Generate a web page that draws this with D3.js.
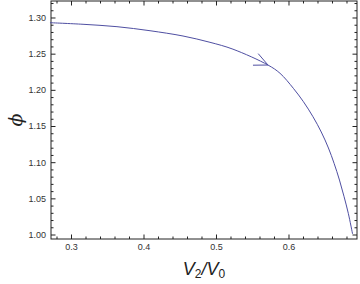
<!DOCTYPE html>
<html>
<head>
<meta charset="utf-8">
<script src="https://cdn.jsdelivr.net/npm/d3@7"></script>
<style>
  body { margin: 0; background: #fff; }
  svg { display: block; }
  .tick text { font-family: "Liberation Sans", Arial, sans-serif; font-size: 9px; fill: #333; }
</style>
</head>
<body>
<div id="chart"></div>
<script>
// curve
const v2v0 = [0.2710, 0.3166, 0.3634, 0.4090, 0.4545, 0.4917, 0.5234, 0.5717, 0.5883,
              0.6067, 0.6206, 0.6338, 0.6452, 0.6551, 0.6629, 0.6703, 0.6767, 0.6825, 0.6884];
const phi  = [1.2928, 1.2906, 1.2873, 1.2817, 1.2744, 1.2657, 1.2562, 1.2343, 1.2229,
              1.2021, 1.1836, 1.1628, 1.1417, 1.1196, 1.0984, 1.0753, 1.0522, 1.0293, 1.0007];
const arrowIndex = 7;   // where the direction arrow sits

const xTicks = [0.3, 0.4, 0.5, 0.6];
const yTicks = [1.00, 1.05, 1.10, 1.15, 1.20, 1.25, 1.30];
const xDomain = [0.2724, 0.6945];
const yDomain = [0.9938, 1.3228];

const W = 360, H = 284;
const margin = {top: 1, right: 3, bottom: 45, left: 51};
const width = W - margin.left - margin.right;
const height = H - margin.top - margin.bottom;

const data = v2v0.map((v, i) => ({x: v, y: phi[i]}));

let svg = d3.select("#chart")
  .append("svg")
    .attr("width", W)
    .attr("height", H)
  .append("g")
    .attr("transform", "translate(" + margin.left + "," + margin.top + ")");

const xScale = d3.scaleLinear().domain(xDomain).range([0, width]);
const yScale = d3.scaleLinear().domain(yDomain).range([height, 0]);

// minor ticks every 0.02 / 0.01
const xMinor = d3.range(0.28, 0.70, 0.02).filter(t => xTicks.every(m => Math.abs(m - t) > 1e-6));
const yMinor = d3.range(1.00, 1.33, 0.01).filter(t => yTicks.every(m => Math.abs(m - t) > 1e-6));

function addAxis(axis, transform) {
  const g = svg.append("g").attr("transform", transform).call(axis);
  g.select(".domain").remove();
  g.selectAll("line").attr("stroke", "#222");
  return g;
}

// bottom
addAxis(d3.axisBottom(xScale).tickValues(xTicks).tickSize(-4.5).tickPadding(5).tickFormat(d3.format(".1f")),
  `translate(0,${height})`);
addAxis(d3.axisBottom(xScale).tickValues(xMinor).tickSize(-2.5).tickFormat(""),
  `translate(0,${height})`);
// top
addAxis(d3.axisTop(xScale).tickValues(xTicks).tickSize(-4.5).tickFormat(""), "translate(0,0)");
addAxis(d3.axisTop(xScale).tickValues(xMinor).tickSize(-2.5).tickFormat(""), "translate(0,0)");
// left
addAxis(d3.axisLeft(yScale).tickValues(yTicks).tickSize(-4.5).tickPadding(5).tickFormat(d3.format(".2f")),
  "translate(0,0)");
addAxis(d3.axisLeft(yScale).tickValues(yMinor).tickSize(-2.5).tickFormat(""), "translate(0,0)");
// right
addAxis(d3.axisRight(yScale).tickValues(yTicks).tickSize(-4.5).tickFormat(""), `translate(${width},0)`);
addAxis(d3.axisRight(yScale).tickValues(yMinor).tickSize(-2.5).tickFormat(""), `translate(${width},0)`);

// frame
svg.append("rect")
  .attr("x", 0).attr("y", 0)
  .attr("width", width).attr("height", height)
  .attr("fill", "none")
  .attr("stroke", "#222");

// curve
const line = d3.line()
  .x(d => xScale(d.x))
  .y(d => yScale(d.y))
  .curve(d3.curveCatmullRom.alpha(0.5));

svg.append("path")
  .datum(data)
  .attr("d", line)
  .attr("fill", "none")
  .attr("stroke", "#4f4fa2")
  .attr("stroke-width", 1);

// open arrow head pointing along the curve
const tip = data[arrowIndex], prev = data[arrowIndex - 1];
const tx = xScale(tip.x), ty = yScale(tip.y);
const ang = Math.atan2(ty - yScale(prev.y), tx - xScale(prev.x));
const back = ang + Math.PI, spread = 25 * Math.PI / 180, len = 15;
const arms = [back - spread, back + spread].map(a => [tx + len * Math.cos(a), ty + len * Math.sin(a)]);
svg.append("path")
  .attr("d", `M${arms[0][0]},${arms[0][1]}L${tx},${ty}L${arms[1][0]},${arms[1][1]}`)
  .attr("fill", "none")
  .attr("stroke", "#4f4fa2")
  .attr("stroke-width", 1);

// axis titles
const xt = svg.append("text")
  .attr("x", width / 2)
  .attr("y", height + 36)
  .attr("text-anchor", "middle")
  .style("font-family", "Liberation Sans, Arial, sans-serif")
  .style("font-style", "italic")
  .style("font-size", "18px")
  .attr("fill", "#222");
xt.append("tspan").text("V");
xt.append("tspan").attr("dy", 3).style("font-size", "12px").style("font-style", "normal").text("2");
xt.append("tspan").attr("dy", -3).text("/V");
xt.append("tspan").attr("dy", 3).style("font-size", "12px").style("font-style", "normal").text("0");

svg.append("text")
  .attr("transform", `translate(${-36},${height / 2}) rotate(-90)`)
  .attr("text-anchor", "middle")
  .attr("dy", "0.35em")
  .style("font-family", "DejaVu Serif, serif")
  .style("font-style", "italic")
  .style("font-size", "19px")
  .attr("fill", "#222")
  .text("ϕ");
</script>
</body>
</html>
